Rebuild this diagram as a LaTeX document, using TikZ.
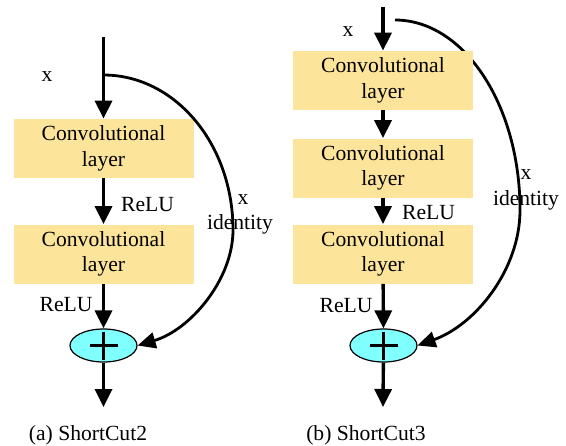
\documentclass[tikz,border=0pt]{standalone}
\usepackage{fontspec}
\setmainfont{LiberationSerif-Regular.ttf}
\newfontfamily\labelface{LiberationSerif-Regular.ttf}
\usetikzlibrary{arrows.meta,shapes.geometric,backgrounds}
\definecolor{convfill}{RGB}{253,228,155}
\definecolor{sumfill}{RGB}{128,255,255}
\begin{document}
\begin{tikzpicture}[x=0.5pt,y=-0.5pt,
  txt/.style={font=\labelface\fontsize{10.8}{12.8}\selectfont},
  conv/.style={txt, fill=convfill, minimum width=90pt, minimum height=29.5pt,
    inner sep=0pt, align=center},
  sum/.style={ellipse, draw, line width=0.6pt, fill=sumfill,
    minimum width=33.5pt, minimum height=16.5pt, inner sep=0pt},
  flow/.style={line width=1.7pt, -{Triangle[width=8.5pt,length=9pt]}},
  skip/.style={line width=1.4pt, -{Triangle[width=8pt,length=9pt]}},
  lbl/.style={txt, inner sep=0pt},
  plus/.style={line width=1.2pt}]
\useasboundingbox (0,0) rectangle (566,445);

% ---------- (a) ShortCut2 ----------
\coordinate (ain) at (103.5,37);
\coordinate (asplit) at (103.5,75);
\coordinate (aout) at (103.5,407);
\node[conv] (a1) at (103.5,148.5) {Convolutional\\layer};
\node[conv] (a2) at (103.5,254) {Convolutional\\layer};
\node[sum] (as) at (103.5,345.5) {};
\draw[plus] ([xshift=-7pt]as.center) -- ([xshift=7pt]as.center);
\draw[plus] ([yshift=7pt]as.center) -- ([yshift=-7pt]as.center);

\draw[flow] (ain) -- (a1);
\draw[flow] (a1) -- (a2);
\draw[flow] (a2) -- (as);
\draw[flow] (as) -- (aout);
\draw[skip] (asplit) .. controls (175,75) and (233,144) .. (233,230)
  .. controls (233,280) and (190,330) .. (as.east);

\node[lbl] (ax) at (47,77) {x};
\node[lbl] (arelu1) at (147.5,205) {ReLU};
\node[lbl] (arelu2) at (66,305) {ReLU};
\node[lbl] (aidx) at (243,200) {x};
\node[lbl] (aid) at (240,224) {identity};
\node[lbl] (acap) at (88,435) {(a) ShortCut2};

% ---------- (b) ShortCut3 ----------
\coordinate (bin) at (383,7);
\coordinate (bsplit) at (395,20);
\coordinate (bout) at (383,407);
\node[conv] (b1) at (383,80.5) {Convolutional\\layer};
\node[conv] (b2) at (383,168) {Convolutional\\layer};
\node[conv] (b3) at (383,254) {Convolutional\\layer};
\node[sum] (bs) at (383.5,345.5) {};
\draw[plus] ([xshift=-7pt]bs.center) -- ([xshift=7pt]bs.center);
\draw[plus] ([yshift=7pt]bs.center) -- ([yshift=-7pt]bs.center);

\draw[flow] (bin) -- (b1);
\draw[flow] (b1) -- (b2);
\draw[flow] (b2) -- (b3);
\draw[flow] (b3) -- (bs);
\draw[flow] (bs) -- (bout);
\begin{scope}[on background layer]
  \draw[skip] (bsplit) .. controls (464,20) and (520,105) .. (520,210)
    .. controls (520,270) and (475,325) .. (bs.east);
\end{scope}

\node[lbl] (bx) at (348,32) {x};
\node[lbl] (brelu1) at (428.5,213) {ReLU};
\node[lbl] (brelu2) at (346,306) {ReLU};
\node[lbl] (bidx) at (526,175) {x};
\node[lbl] (bid) at (526,200) {identity};
\node[lbl] (bcap) at (366,435) {(b) ShortCut3};
\end{tikzpicture}
\end{document}
